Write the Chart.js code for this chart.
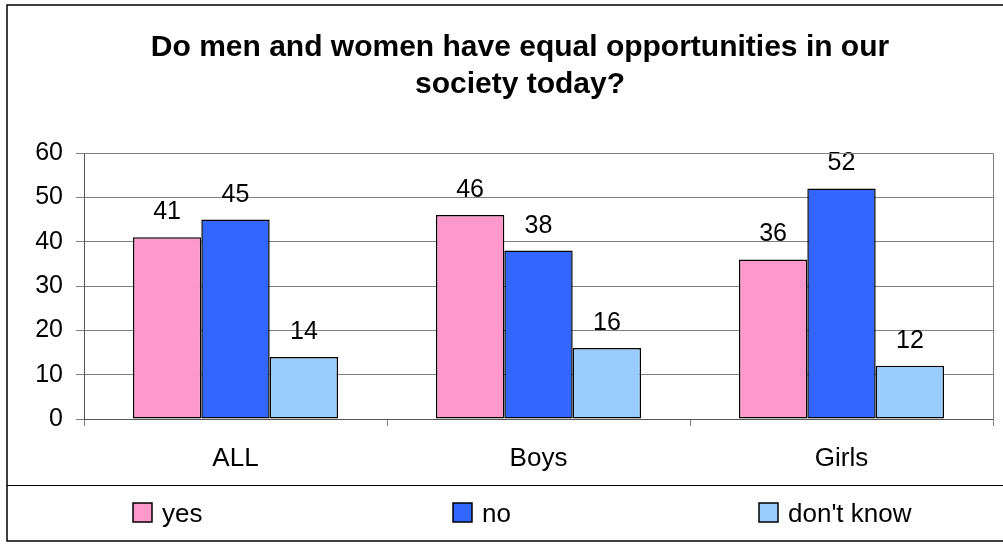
<!DOCTYPE html>
<html>
<head>
<meta charset="utf-8">
<script src="https://cdn.jsdelivr.net/npm/chart.js@4/dist/chart.umd.min.js"></script>
<style>
  html, body { margin: 0; padding: 0; background: #fff; }
  #wrap { width: 1003px; height: 554px; position: relative; }
</style>
</head>
<body>
<div id="wrap"><canvas id="surveyChart"></canvas></div>
<script>
// data
const categories = ["ALL", "Boys", "Girls"];
const yesValues = [41, 46, 36];
const noValues = [45, 38, 52];
const dontKnowValues = [14, 16, 12];
const seriesNames = ["yes", "no", "don't know"];
const seriesColors = ["#FF99CC", "#3366FF", "#99CCFF"];
const titleLines = ["Do men and women have equal opportunities in our", "society today?"];

const FONT = "'Liberation Sans', Arial, sans-serif";

// frame, title, legend and value labels drawn the old Excel way
const excelLook = {
    id: "excelLook",
    beforeDraw(chart) {
        const ctx = chart.ctx;
        ctx.save();
        ctx.fillStyle = "#fff";
        ctx.fillRect(0, 0, chart.width, chart.height);
        ctx.restore();
    },
    afterDatasetsDraw(chart) {
        const ctx = chart.ctx;
        ctx.save();
        ctx.font = "25px " + FONT;
        ctx.fillStyle = "#000";
        ctx.textAlign = "center";
        ctx.textBaseline = "alphabetic";
        chart.data.datasets.forEach((ds, i) => {
            chart.getDatasetMeta(i).data.forEach((bar, j) => {
                ctx.fillText(String(ds.data[j]), bar.x, bar.y - 18);
            });
        });
        ctx.restore();
    },
    afterDraw(chart) {
        const ctx = chart.ctx;
        const area = chart.chartArea;
        ctx.save();

        // plot area right/top edge (grey)
        ctx.strokeStyle = "#808080";
        ctx.lineWidth = 1;
        ctx.beginPath();
        ctx.moveTo(area.left, area.top + 0.5);
        ctx.lineTo(area.right + 0.5, area.top + 0.5);
        ctx.lineTo(area.right + 0.5, area.bottom + 7);
        ctx.stroke();

        // outer border + legend box line
        ctx.strokeStyle = "#000";
        ctx.lineWidth = 1.5;
        ctx.strokeRect(7, 5, chart.width + 10, 536);
        ctx.lineWidth = 1;
        ctx.beginPath();
        ctx.moveTo(7, 485.5);
        ctx.lineTo(chart.width, 485.5);
        ctx.stroke();

        // title
        ctx.fillStyle = "#000";
        ctx.textAlign = "center";
        ctx.textBaseline = "alphabetic";
        ctx.font = "bold 30px " + FONT;
        ctx.fillText(titleLines[0], 520, 56);
        ctx.fillText(titleLines[1], 520, 93);

        // legend
        const legendX = [133, 453, 759];
        const boxTop = 503;
        ctx.font = "26px " + FONT;
        ctx.textAlign = "left";
        seriesNames.forEach((name, i) => {
            ctx.fillStyle = seriesColors[i];
            ctx.fillRect(legendX[i], boxTop, 19, 19);
            ctx.strokeStyle = "#000";
            ctx.lineWidth = 1.5;
            ctx.strokeRect(legendX[i], boxTop, 19, 19);
            ctx.fillStyle = "#000";
            ctx.fillText(name, legendX[i] + 29, 522);
        });
        ctx.restore();
    }
};

const datasets = [yesValues, noValues, dontKnowValues].map((vals, i) => ({
    label: seriesNames[i],
    data: vals,
    backgroundColor: seriesColors[i],
    borderColor: "#000",
    borderWidth: 1.5,
    borderSkipped: false,
    categoryPercentage: 0.677,
    barPercentage: 1.0
}));

new Chart(document.getElementById("surveyChart"), {
    type: "bar",
    data: { labels: categories, datasets },
    plugins: [excelLook],
    options: {
        responsive: true,
        maintainAspectRatio: false,
        animation: false,
        devicePixelRatio: 1,
        layout: { padding: { top: 153, right: 10, left: 0, bottom: 0 } },
        plugins: {
            legend: { display: false },
            title: { display: false },
            tooltip: { enabled: false }
        },
        scales: {
            y: {
                min: 0,
                max: 60,
                ticks: { stepSize: 10, color: "#000", font: { size: 25, family: FONT }, padding: 13 },
                grid: { color: "#808080", tickLength: 8, lineWidth: 1 },
                border: { color: "#555", width: 1 },
                afterFit(scale) { scale.width = 84; }
            },
            x: {
                ticks: { color: "#000", font: { size: 26, family: FONT }, padding: 17 },
                grid: { offset: true, drawOnChartArea: false, tickLength: 7, color: "#808080" },
                border: { color: "#555", width: 1 },
                afterFit(scale) { scale.height = 135; }
            }
        }
    }
});
</script>
</body>
</html>
